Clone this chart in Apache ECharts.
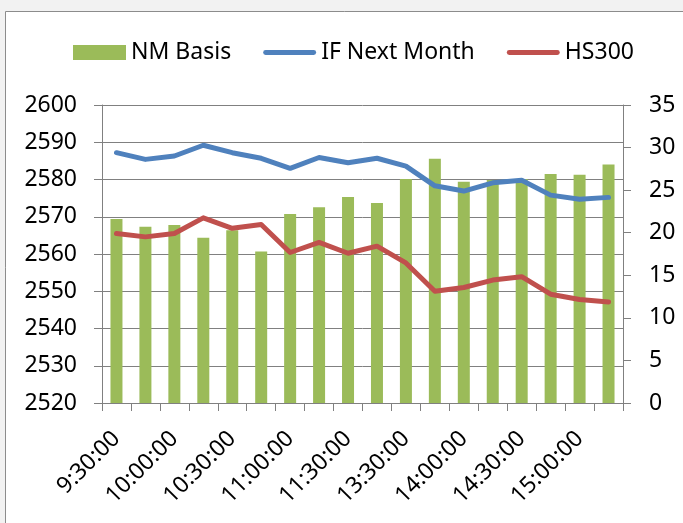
<!DOCTYPE html>
<html>
<head>
<meta charset="utf-8">
<script src="https://cdn.jsdelivr.net/npm/echarts@6/dist/echarts.min.js"></script>
<style>
  html, body { margin: 0; padding: 0; background: #f2f2f2; }
  #chart { width: 683px; height: 523px; }
</style>
</head>
<body>
<div id="chart"></div>
<script>
// time slots (every other one is labelled)
const times = ['9:30:00', '9:45:00', '10:00:00', '10:15:00', '10:30:00', '10:45:00',
  '11:00:00', '11:15:00', '11:30:00', '13:15:00', '13:30:00', '13:45:00',
  '14:00:00', '14:15:00', '14:30:00', '14:45:00', '15:00:00', '15:15:00'];

// basis, right axis
const nmBasis = [21.6, 20.7, 20.9, 19.4, 20.3, 17.8, 22.2, 23.0, 24.2,
  23.5, 26.3, 28.7, 26.0, 26.2, 26.3, 26.9, 26.8, 28.0];

// prices, left axis
const ifNextMonth = [2587.2, 2585.4, 2586.3, 2589.2, 2587.2, 2585.7, 2583.0, 2585.9, 2584.5,
  2585.7, 2583.6, 2578.3, 2576.9, 2579.1, 2579.8, 2575.8, 2574.7, 2575.2];
const hs300 = [2565.5, 2564.6, 2565.5, 2569.7, 2566.9, 2567.9, 2560.4, 2563.1, 2560.2,
  2562.1, 2557.6, 2550.0, 2551.0, 2553.0, 2553.9, 2549.2, 2547.8, 2547.1];

const leftTicks = { min: 2520, max: 2600, interval: 10 };
const rightTicks = { min: 0, max: 35, interval: 5 };

const font = '"Noto Sans", sans-serif';
const axisGrey = '#808080';
// thick line with round ends for the legend
const lineIcon = 'path://M2.5,0 L51.5,0 A2.5,2.5 0 0 1 51.5,5 L2.5,5 A2.5,2.5 0 0 1 2.5,0 Z';

const myChart = echarts.init(document.getElementById('chart'));

const option = {
  backgroundColor: '#f2f2f2',
  animation: false,
  graphic: [{
    // white chart area with border, running off the right and bottom
    type: 'rect',
    left: 5, top: 11,
    shape: { width: 700, height: 540 },
    style: { fill: '#ffffff', stroke: '#8c8c8c', lineWidth: 1 },
    z: -10
  }],
  legend: {
    left: 68,
    top: 36,
    itemWidth: 53,
    itemHeight: 15,
    itemGap: 32,
    textStyle: { fontFamily: font, fontSize: 23, color: '#000' },
    data: [
      { name: 'NM Basis', icon: 'rect' },
      { name: 'IF Next Month', icon: lineIcon },
      { name: 'HS300', icon: lineIcon }
    ]
  },
  grid: {
    left: 102,
    right: 60,
    top: 105,
    bottom: 120
  },
  xAxis: {
    type: 'category',
    data: times,
    boundaryGap: true,
    axisLine: { lineStyle: { color: axisGrey, width: 1 } },
    axisTick: { show: true, length: 8, interval: 0, lineStyle: { color: axisGrey } },
    axisLabel: {
      interval: 1,
      rotate: 45,
      margin: 32,
      fontFamily: font,
      fontSize: 23,
      color: '#000'
    }
  },
  yAxis: [{
    type: 'value',
    position: 'left',
    min: leftTicks.min,
    max: leftTicks.max,
    interval: leftTicks.interval,
    axisLine: { show: true, lineStyle: { color: axisGrey } },
    axisTick: { show: true, length: 8, lineStyle: { color: axisGrey } },
    splitLine: { show: true, lineStyle: { color: axisGrey } },
    axisLabel: {
      margin: 25, fontFamily: font, fontSize: 23, color: '#000',
      formatter: v => String(v)
    }
  }, {
    type: 'value',
    position: 'right',
    min: rightTicks.min,
    max: rightTicks.max,
    interval: rightTicks.interval,
    axisLine: { show: true, lineStyle: { color: axisGrey } },
    axisTick: { show: true, length: 8, lineStyle: { color: axisGrey } },
    splitLine: { show: false },
    axisLabel: { margin: 26, fontFamily: font, fontSize: 23, color: '#000' }
  }],
  series: [{
    name: 'NM Basis',
    type: 'bar',
    yAxisIndex: 1,
    data: nmBasis,
    barWidth: 12,
    itemStyle: { color: '#9bbb59' }
  }, {
    name: 'IF Next Month',
    type: 'line',
    yAxisIndex: 0,
    data: ifNextMonth,
    symbol: 'none',
    lineStyle: { color: '#4f81bd', width: 5, cap: 'round', join: 'round' },
    itemStyle: { color: '#4f81bd' }
  }, {
    name: 'HS300',
    type: 'line',
    yAxisIndex: 0,
    data: hs300,
    symbol: 'none',
    lineStyle: { color: '#c0504d', width: 5, cap: 'round', join: 'round' },
    itemStyle: { color: '#c0504d' }
  }]
};

myChart.setOption(option);
</script>
</body>
</html>
